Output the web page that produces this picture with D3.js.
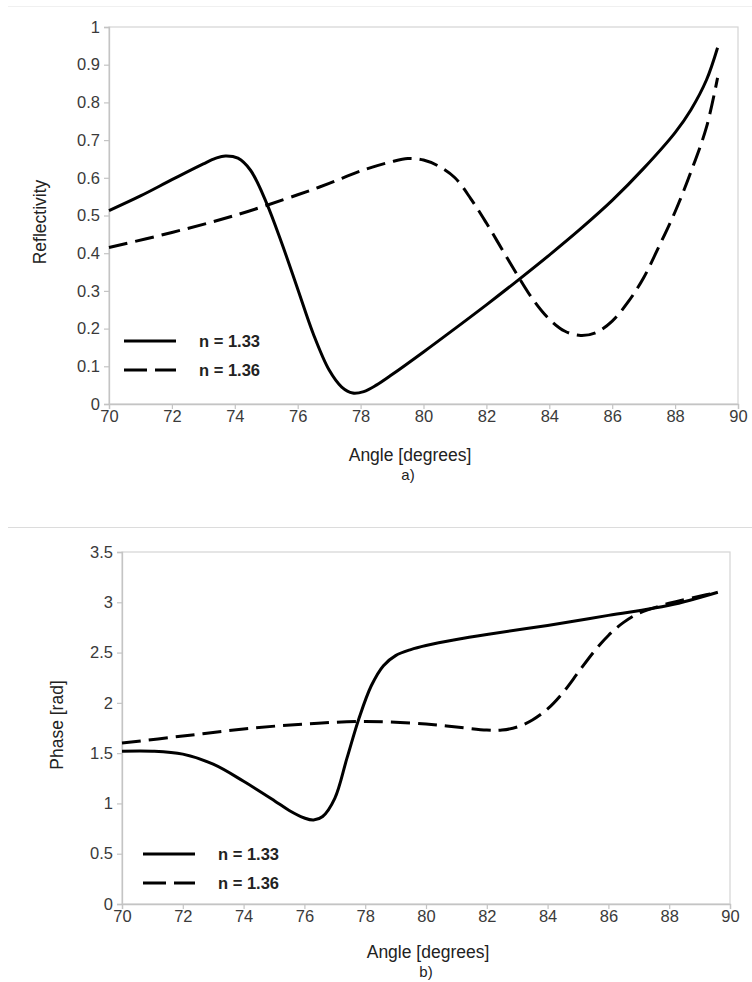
<!DOCTYPE html>
<html>
<head>
<meta charset="utf-8">
<script src="https://cdn.jsdelivr.net/npm/d3@7"></script>
<style>
  html, body { margin: 0; padding: 0; background: #fff; }
  svg { display: block; font-family: "Liberation Sans", Arial, sans-serif; }
</style>
</head>
<body>
<svg id="fig" width="752" height="982"></svg>
<script>
// Reflectivity vs. angle (panel a)
const reflAngles133 = [70, 71, 72, 73, 73.4, 73.7, 74.1, 74.5, 75, 75.5, 76, 76.5, 77, 77.4, 77.75, 78.1, 78.5, 79, 80, 81, 82, 83, 84, 85, 86, 87, 88, 88.5, 89, 89.35];
const reflValues133 = [0.513, 0.552, 0.595, 0.637, 0.652, 0.658, 0.652, 0.62, 0.535, 0.425, 0.305, 0.185, 0.09, 0.045, 0.029, 0.033, 0.05, 0.078, 0.138, 0.2, 0.263, 0.328, 0.395, 0.465, 0.54, 0.625, 0.72, 0.78, 0.86, 0.945];
const reflAngles136 = [70, 72, 74, 76, 77, 78, 79, 79.5, 80, 80.5, 81, 81.5, 82, 82.5, 83, 83.5, 84, 84.5, 85, 85.5, 86, 86.5, 87, 87.5, 88, 88.5, 89, 89.35];
const reflValues136 = [0.415, 0.455, 0.50, 0.555, 0.585, 0.618, 0.643, 0.651, 0.647, 0.63, 0.60, 0.545, 0.48, 0.41, 0.34, 0.275, 0.225, 0.193, 0.182, 0.19, 0.22, 0.27, 0.335, 0.42, 0.51, 0.615, 0.735, 0.865];

// Phase vs. angle (panel b)
const phaseAngles133 = [70, 71, 72, 73, 74, 75, 75.5, 76, 76.3, 76.6, 77, 77.4, 77.8, 78.2, 78.6, 79, 79.5, 80, 81, 82, 84, 86, 88, 89.6];
const phaseValues133 = [1.52, 1.52, 1.49, 1.39, 1.22, 1.03, 0.93, 0.855, 0.835, 0.87, 1.05, 1.45, 1.85, 2.17, 2.37, 2.47, 2.53, 2.57, 2.63, 2.68, 2.77, 2.87, 2.97, 3.10];
const phaseAngles136 = [70, 72, 74, 76, 78, 80, 81, 82, 82.5, 83, 83.5, 84, 84.5, 85, 85.5, 86, 86.5, 87, 88, 89, 89.6];
const phaseValues136 = [1.60, 1.67, 1.74, 1.79, 1.815, 1.79, 1.76, 1.73, 1.73, 1.76, 1.83, 1.94, 2.10, 2.30, 2.50, 2.67, 2.80, 2.89, 2.99, 3.06, 3.10];

const xTicks = [70, 72, 74, 76, 78, 80, 82, 84, 86, 88, 90];
const reflTicks = [0, 0.1, 0.2, 0.3, 0.4, 0.5, 0.6, 0.7, 0.8, 0.9, 1];
const phaseTicks = [0, 0.5, 1, 1.5, 2, 2.5, 3, 3.5];
const legendLabels = ["n = 1.33", "n = 1.36"];

const svg = d3.select("#fig");

// faint page rules
svg.append("line").attr("x1", 8).attr("x2", 752).attr("y1", 6.5).attr("y2", 6.5)
  .attr("stroke", "#f0f0f0").attr("stroke-width", 1);
svg.append("line").attr("x1", 8).attr("x2", 752).attr("y1", 527.5).attr("y2", 527.5)
  .attr("stroke", "#dcdcdc").attr("stroke-width", 1.2);

function panel(cfg) {
  const x = d3.scaleLinear().domain([70, 90]).range([cfg.left, cfg.right]);
  const y = d3.scaleLinear().domain(cfg.yDomain).range([cfg.bottom, cfg.top]);
  const g = svg.append("g");

  // plot frame
  g.append("rect")
    .attr("x", cfg.left).attr("y", cfg.top)
    .attr("width", cfg.right - cfg.left).attr("height", cfg.bottom - cfg.top)
    .attr("fill", "none").attr("stroke", "#d4d4d4").attr("stroke-width", 1.2);

  // axes
  const yAxis = d3.axisLeft(y).tickValues(cfg.yTicks).tickSize(5).tickPadding(4)
    .tickFormat(d3.format("~g"));
  const gy = g.append("g").attr("transform", `translate(${cfg.left},0)`).call(yAxis);
  const xAxis = d3.axisBottom(x).tickValues(xTicks).tickSize(5).tickPadding(1);
  const gx = g.append("g").attr("transform", `translate(0,${cfg.bottom})`).call(xAxis);
  [gx, gy].forEach(a => {
    a.select(".domain").attr("stroke", "#c4c4c4").attr("stroke-width", 1.3);
    a.selectAll(".tick line").attr("stroke", "#c4c4c4").attr("stroke-width", 1.2);
    a.selectAll(".tick text").attr("fill", "#3a3a3a").attr("font-size", 16.5);
  });

  // series
  const line = d3.line().x(d => x(d[0])).y(d => y(d[1])).curve(d3.curveCatmullRom.alpha(0.5));
  const solid = d3.zip(cfg.a133, cfg.v133);
  const dashed = d3.zip(cfg.a136, cfg.v136);
  g.append("path").datum(dashed).attr("d", line)
    .attr("fill", "none").attr("stroke", "#000").attr("stroke-width", 3)
    .attr("stroke-dasharray", "19,8");
  g.append("path").datum(solid).attr("d", line)
    .attr("fill", "none").attr("stroke", "#000").attr("stroke-width", 3);

  // legend
  const lg = g.append("g");
  legendLabels.forEach((lab, i) => {
    const ly = cfg.legY + i * 29;
    lg.append("line").attr("x1", cfg.legX).attr("x2", cfg.legX + 52)
      .attr("y1", ly).attr("y2", ly)
      .attr("stroke", "#000").attr("stroke-width", 3.2)
      .attr("stroke-dasharray", i === 0 ? null : "23,8");
    lg.append("text").attr("x", cfg.legX + 75).attr("y", ly + 6)
      .attr("font-size", 16.5).attr("font-weight", "bold").attr("fill", "#222")
      .text(lab);
  });

  // axis titles
  g.append("text")
    .attr("transform", `translate(${cfg.yTitleX},${cfg.yTitleY}) rotate(-90)`)
    .attr("text-anchor", "middle").attr("font-size", 17.5).attr("fill", "#222")
    .text(cfg.yTitle);
  g.append("text").attr("x", cfg.xTitleX).attr("y", cfg.xTitleY)
    .attr("text-anchor", "middle").attr("font-size", 17.5).attr("fill", "#222")
    .text("Angle [degrees]");
  g.append("text").attr("x", cfg.xTitleX - 2).attr("y", cfg.xTitleY + 19)
    .attr("text-anchor", "middle").attr("font-size", 15).attr("fill", "#222")
    .text(cfg.caption);
}

panel({
  left: 109, right: 738, top: 27, bottom: 404,
  yDomain: [0, 1], yTicks: reflTicks,
  a133: reflAngles133, v133: reflValues133, a136: reflAngles136, v136: reflValues136,
  legX: 124, legY: 341, yTitle: "Reflectivity", yTitleX: 46, yTitleY: 222,
  xTitleX: 410, xTitleY: 461, caption: "a)"
});

panel({
  left: 122, right: 730, top: 552, bottom: 904,
  yDomain: [0, 3.5], yTicks: phaseTicks,
  a133: phaseAngles133, v133: phaseValues133, a136: phaseAngles136, v136: phaseValues136,
  legX: 143, legY: 854, yTitle: "Phase [rad]", yTitleX: 63, yTitleY: 725,
  xTitleX: 428, xTitleY: 958, caption: "b)"
});
</script>
</body>
</html>
